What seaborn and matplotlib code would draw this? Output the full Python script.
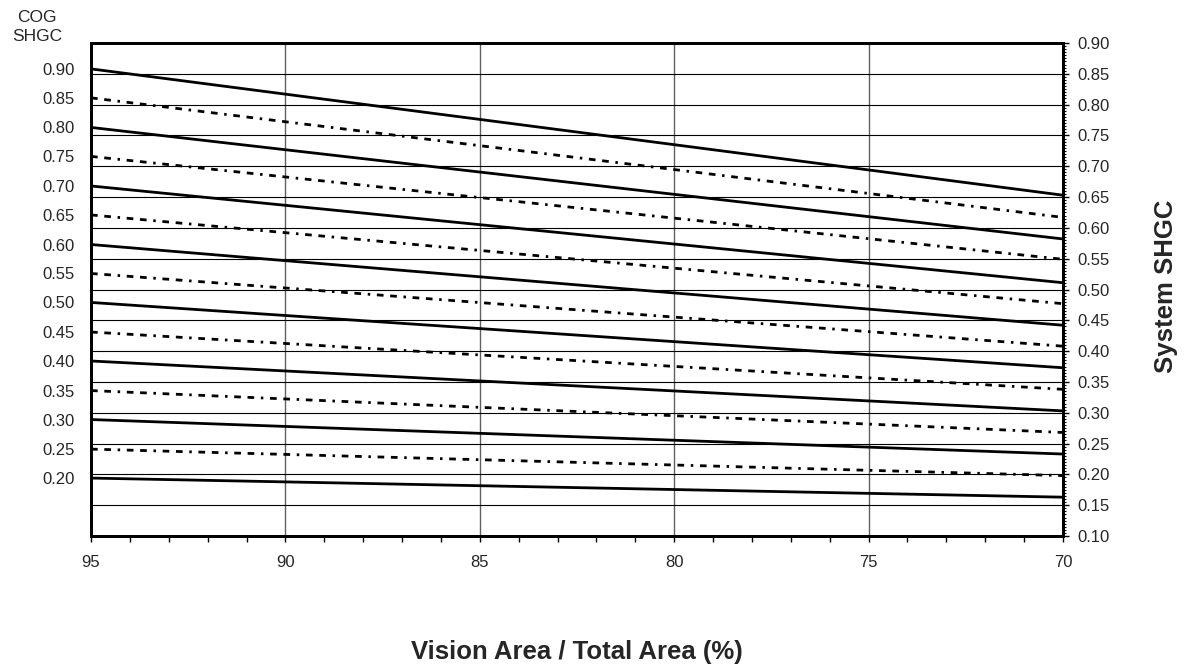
import numpy as np
import pandas as pd
import matplotlib
matplotlib.use('Agg')
import matplotlib.pyplot as plt
from matplotlib.ticker import MultipleLocator, FixedLocator, FormatStrFormatter
import seaborn as sns


# vision area share at the two ends of each line (%)
vision_pct = [95, 70]

# centre-of-glass SHGC for each line (left labels)
cog_shgc = [0.20, 0.25, 0.30, 0.35, 0.40, 0.45, 0.50, 0.55,
            0.60, 0.65, 0.70, 0.75, 0.80, 0.85, 0.90]

# system SHGC at 95 % and at 70 %
sys_at_95 = [0.194, 0.241, 0.289, 0.336, 0.384, 0.431, 0.479, 0.526,
             0.573, 0.621, 0.668, 0.716, 0.763, 0.811, 0.858]
sys_at_70 = [0.163, 0.198, 0.233, 0.268, 0.303, 0.338, 0.373, 0.408,
             0.442, 0.477, 0.511, 0.549, 0.582, 0.617, 0.653]

rows = []
for c, a, b in zip(cog_shgc, sys_at_95, sys_at_70):
    rows.append({'cog': c, 'vision': vision_pct[0], 'system': a})
    rows.append({'cog': c, 'vision': vision_pct[1], 'system': b})
df = pd.DataFrame(rows)

sns.set_style('white')
plt.rcParams['font.family'] = ['Liberation Sans', 'DejaVu Sans']

fig = plt.figure(figsize=(11.93, 6.71), dpi=100)
ax = fig.add_axes([91 / 1193, 1 - 536 / 671, 972 / 1193, 493 / 671])
ax2 = ax.twinx()   # only carries the COG labels on the left

# grid (drawn under the lines)
ax.set_axisbelow(True)
ax.grid(axis='x', which='major', color='#606060', lw=1.0)
ax.grid(axis='y', which='major', color='black', lw=0.8)

dash_pat = (0, (2.4, 2.4, 2.4, 2.4, 0.9, 2.4))
for i, c in enumerate(cog_shgc):
    sub = df[df['cog'] == c]
    ls = '-' if i % 2 == 0 else dash_pat
    sns.lineplot(data=sub, x='vision', y='system', ax=ax, color='black',
                 lw=2.0, linestyle=ls, sort=False, legend=False)

ax.set_xlim(95, 70)
ax.set_ylim(0.10, 0.90)

# x axis
ax.xaxis.set_major_locator(MultipleLocator(5))
ax.xaxis.set_minor_locator(MultipleLocator(1))
ax.tick_params(axis='x', which='both', direction='out', bottom=True,
               length=4.5, width=1, color='black', pad=9, labelsize=12)
ax.set_xlabel('Vision Area / Total Area (%)', fontsize=18.5, fontweight='bold')
ax.xaxis.set_label_coords(0.5, -0.21)

# right axis: system SHGC
ax.yaxis.tick_right()
ax.yaxis.set_major_locator(MultipleLocator(0.05))
ax.yaxis.set_minor_locator(MultipleLocator(0.005))
ax.yaxis.set_major_formatter(FormatStrFormatter('%.2f'))
ax.tick_params(axis='y', which='major', direction='out', right=True, left=False,
               labelright=True, labelleft=False,
               length=4.5, width=1, color='black', pad=6, labelsize=12)
ax.tick_params(axis='y', which='minor', direction='out', right=True, left=False,
               length=2.5, width=0.8, color='black')
ax.yaxis.set_label_position('right')
ax.set_ylabel('System SHGC', fontsize=18.5, fontweight='bold')
ax.yaxis.set_label_coords(1.094, 0.507)

# left labels: COG SHGC at each line start
ax2.set_ylim(ax.get_ylim())
ax2.yaxis.tick_left()
ax2.yaxis.set_major_locator(FixedLocator(sys_at_95))
ax2.yaxis.set_minor_locator(FixedLocator([]))
ax2.set_yticklabels([f'{c:.2f}' for c in cog_shgc])
ax2.tick_params(axis='y', which='both', left=False, right=False,
                labelleft=True, labelright=False, pad=8, labelsize=12)
ax2.grid(False)

for a in (ax, ax2):
    for s in a.spines.values():
        s.set_visible(True)
        s.set_color('black')
        s.set_linewidth(2.0)

fig.text(37 / 1193, 1 - 27 / 671, 'COG\nSHGC', ha='center', va='center',
         fontsize=12.5, linespacing=1.35)

fig.savefig('out.png', dpi=100)
